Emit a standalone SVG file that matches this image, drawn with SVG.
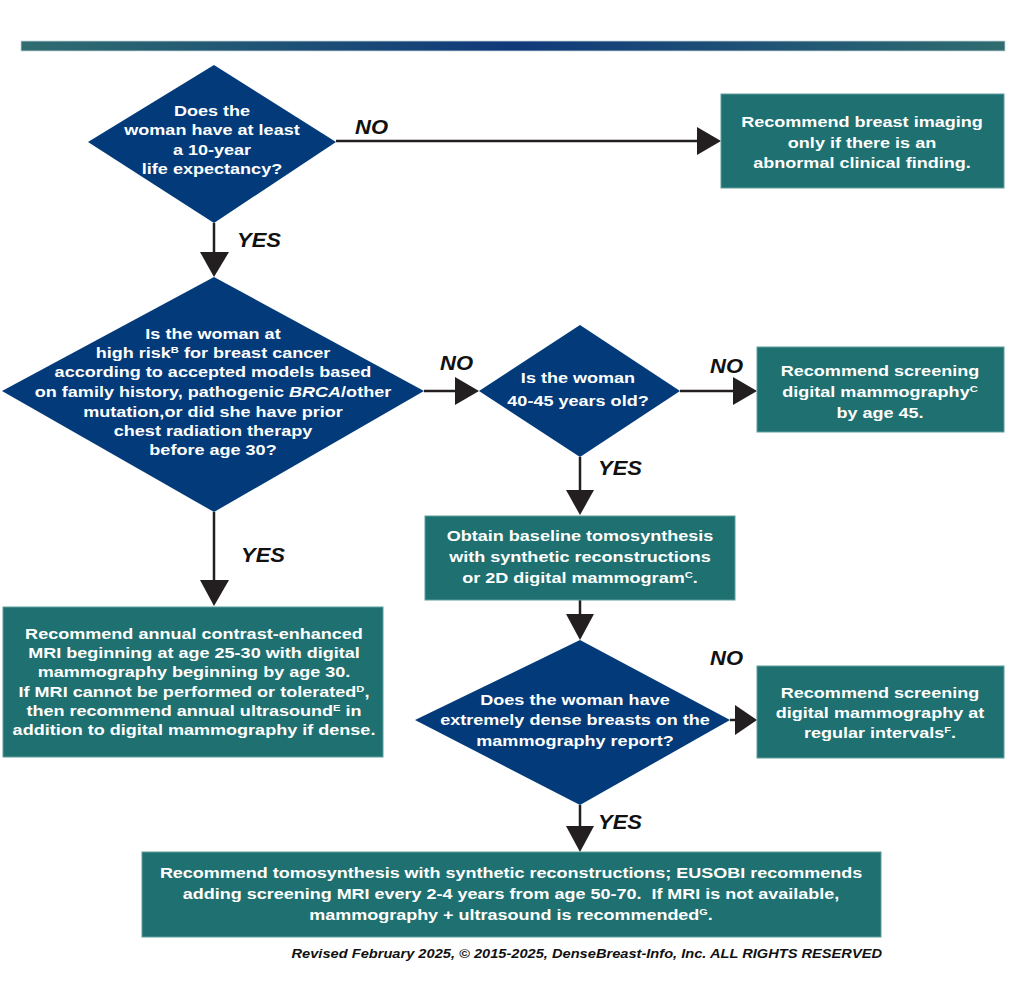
<svg xmlns="http://www.w3.org/2000/svg" width="1024" height="997" viewBox="0 0 1024 997">
<defs>
<linearGradient id="bar" x1="0" y1="0" x2="1" y2="0">
<stop offset="0" stop-color="#2f6d70"/>
<stop offset="0.5" stop-color="#10397a"/>
<stop offset="1" stop-color="#2f6d70"/>
</linearGradient>
<style>
.dia{fill:#033b7a;}
.box{fill:#1f7070;stroke:#5f9e9e;stroke-width:1;}
.t{font-family:"Liberation Sans",Arial,sans-serif;font-weight:bold;font-size:14.5px;fill:#ffffff;text-anchor:middle;}
.sup{font-size:9px;}
.lbl{font-family:"Liberation Sans",Arial,sans-serif;font-weight:bold;font-style:italic;font-size:20px;fill:#111111;}
.ln{stroke:#231f20;stroke-width:2.5;fill:none;}
.ah{fill:#231f20;}
.ft{font-family:"Liberation Sans",Arial,sans-serif;font-weight:bold;font-style:italic;font-size:12px;fill:#111111;text-anchor:end;}
</style>
</defs>
<rect x="0" y="0" width="1024" height="997" fill="#ffffff"/>
<rect x="21" y="41" width="984" height="10" fill="url(#bar)" stroke="#c9d6dc" stroke-width="0.8"/>

<g id="connectors">
<line class="ln" x1="336" y1="141" x2="698" y2="141"/><polygon class="ah" points="697,127 721,141 697,155"/>
<line class="ln" x1="214" y1="223" x2="214" y2="253"/><polygon class="ah" points="200,252 229,252 214,277"/>
<line class="ln" x1="424" y1="391" x2="456" y2="391"/><polygon class="ah" points="455,377 479,391 455,405"/>
<line class="ln" x1="680" y1="391" x2="734" y2="391"/><polygon class="ah" points="733,377 757,391 733,405"/>
<line class="ln" x1="214" y1="512" x2="214" y2="581"/><polygon class="ah" points="200,580 229,580 214,606"/>
<line class="ln" x1="580" y1="457" x2="580" y2="491"/><polygon class="ah" points="566,490 594,490 580,515"/>
<line class="ln" x1="580" y1="600" x2="580" y2="615"/><polygon class="ah" points="566,614 594,614 580,640"/>
<line class="ln" x1="730" y1="720" x2="736" y2="720"/><polygon class="ah" points="735,705 757,720 735,735"/>
<line class="ln" x1="580" y1="805" x2="580" y2="827"/><polygon class="ah" points="566,826 594,826 580,852"/>
<g transform="translate(355,0) scale(1.1,1)"><text class="lbl" x="0" y="134">NO</text></g>
<g transform="translate(237,0) scale(1.1,1)"><text class="lbl" x="0" y="247">YES</text></g>
<g transform="translate(440,0) scale(1.1,1)"><text class="lbl" x="0" y="370">NO</text></g>
<g transform="translate(710,0) scale(1.1,1)"><text class="lbl" x="0" y="373">NO</text></g>
<g transform="translate(598,0) scale(1.1,1)"><text class="lbl" x="0" y="475">YES</text></g>
<g transform="translate(241,0) scale(1.1,1)"><text class="lbl" x="0" y="562">YES</text></g>
<g transform="translate(710,0) scale(1.1,1)"><text class="lbl" x="0" y="665">NO</text></g>
<g transform="translate(598,0) scale(1.1,1)"><text class="lbl" x="0" y="829">YES</text></g>
</g>

<g id="q-life">
<polygon class="dia" points="214,65 336,142 214,223 88,142"/>
<g transform="translate(212,0) scale(1.245,1)">
<text class="t" x="0" y="116">Does the</text>
<text class="t" x="0" y="135.5">woman have at least</text>
<text class="t" x="0" y="155">a 10-year</text>
<text class="t" x="0" y="174.5">life expectancy?</text>
</g>
</g>

<g id="r-abnormal">
<rect class="box" x="721" y="94" width="283" height="94"/>
<g transform="translate(862,0) scale(1.245,1)">
<text class="t" x="0" y="127">Recommend breast imaging</text>
<text class="t" x="0" y="148">only if there is an</text>
<text class="t" x="0" y="168">abnormal clinical finding.</text>
</g>
</g>

<g id="q-highrisk">
<polygon class="dia" points="214,277 424,391 214,512 2,391"/>
<g transform="translate(213,0) scale(1.245,1)">
<text class="t" x="0" y="339">Is the woman at</text>
<text class="t" x="0" y="358">high risk<tspan class="sup" dy="-5">B</tspan><tspan dy="5"> for breast cancer</tspan></text>
<text class="t" x="0" y="377">according to accepted models based</text>
<text class="t" x="0" y="397">on family history, pathogenic <tspan font-style="italic">BRCA</tspan>/other</text>
<text class="t" x="0" y="417">mutation,or did she have prior</text>
<text class="t" x="0" y="436">chest radiation therapy</text>
<text class="t" x="0" y="455">before age 30?</text>
</g>
</g>

<g id="q-age">
<polygon class="dia" points="580,325 680,391 580,457 479,391"/>
<g transform="translate(578,0) scale(1.245,1)">
<text class="t" x="0" y="383">Is the woman</text>
<text class="t" x="0" y="406">40-45 years old?</text>
</g>
</g>

<g id="r-age45">
<rect class="box" x="757" y="347" width="247" height="85"/>
<g transform="translate(880,0) scale(1.245,1)">
<text class="t" x="0" y="376">Recommend screening</text>
<text class="t" x="0" y="397">digital mammography<tspan class="sup" dy="-5">C</tspan></text>
<text class="t" x="0" y="418">by age 45.</text>
</g>
</g>

<g id="r-mri">
<rect class="box" x="3" y="607" width="380" height="150"/>
<g transform="translate(194,0) scale(1.245,1)">
<text class="t" x="0" y="639">Recommend annual contrast-enhanced</text>
<text class="t" x="0" y="658">MRI beginning at age 25-30 with digital</text>
<text class="t" x="0" y="677">mammography beginning by age 30.</text>
<text class="t" x="0" y="697">If MRI cannot be performed or tolerated<tspan class="sup" dy="-5">D</tspan><tspan dy="5">,</tspan></text>
<text class="t" x="0" y="716">then recommend annual ultrasound<tspan class="sup" dy="-5">E</tspan><tspan dy="5"> in</tspan></text>
<text class="t" x="0" y="735">addition to digital mammography if dense.</text>
</g>
</g>

<g id="r-baseline">
<rect class="box" x="425" y="516" width="310" height="84"/>
<g transform="translate(580,0) scale(1.245,1)">
<text class="t" x="0" y="541">Obtain baseline tomosynthesis</text>
<text class="t" x="0" y="562">with synthetic reconstructions</text>
<text class="t" x="0" y="583">or 2D digital mammogram<tspan class="sup" dy="-5">C</tspan><tspan dy="5">.</tspan></text>
</g>
</g>

<g id="q-dense">
<polygon class="dia" points="580,640 730,720 580,805 415,720"/>
<g transform="translate(575,0) scale(1.245,1)">
<text class="t" x="0" y="705">Does the woman have</text>
<text class="t" x="0" y="725">extremely dense breasts on the</text>
<text class="t" x="0" y="746">mammography report?</text>
</g>
</g>

<g id="r-regular">
<rect class="box" x="757" y="666" width="247" height="92"/>
<g transform="translate(880,0) scale(1.245,1)">
<text class="t" x="0" y="698">Recommend screening</text>
<text class="t" x="0" y="718">digital mammography at</text>
<text class="t" x="0" y="738">regular intervals<tspan class="sup" dy="-5">F</tspan><tspan dy="5">.</tspan></text>
</g>
</g>

<g id="r-tomo">
<rect class="box" x="142" y="852" width="739" height="85"/>
<g transform="translate(511,0) scale(1.2,1)">
<text class="t" x="0" y="878" style="font-size:15px">Recommend tomosynthesis with synthetic reconstructions; EUSOBI recommends</text>
<text class="t" x="0" y="899" style="font-size:15px" xml:space="preserve">adding screening MRI every 2-4 years from age 50-70.  If MRI is not available,</text>
<text class="t" x="0" y="920" style="font-size:15px">mammography + ultrasound is recommended<tspan class="sup" dy="-5">G</tspan><tspan dy="5">.</tspan></text>
</g>
</g>

<g transform="translate(882,0) scale(1.22,1)">
<text class="ft" x="0" y="958">Revised February 2025, © 2015-2025, DenseBreast-Info, Inc. ALL RIGHTS RESERVED</text>
</g>
</svg>
